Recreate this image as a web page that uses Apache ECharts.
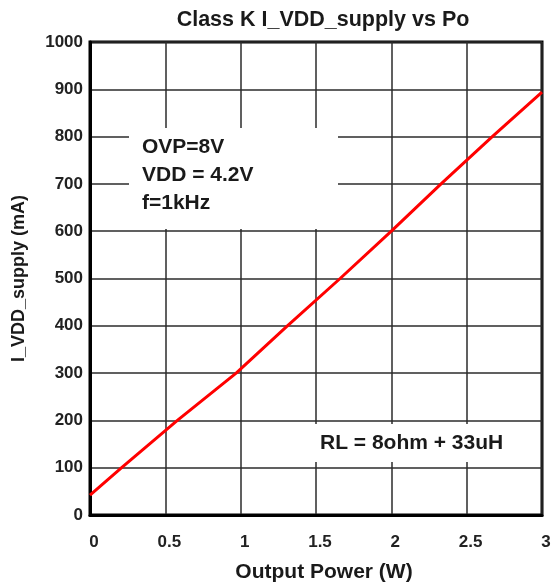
<!DOCTYPE html>
<html>
<head>
<meta charset="utf-8">
<script src="https://cdn.jsdelivr.net/npm/echarts@6/dist/echarts.min.js"></script>
<style>
  html, body { margin: 0; padding: 0; background: #fff; }
  #chart { width: 552px; height: 586px; }
</style>
</head>
<body>
<div id="chart"></div>
<script>
// values
var powerW = [0, 0.21, 0.58, 0.97, 1.31, 1.66, 2.0, 2.33, 2.67, 3.0];
var supplyMa = [42, 100, 200, 300, 400, 500, 600, 700, 800, 894];
var notesLeft = ['OVP=8V', 'VDD = 4.2V', 'f=1kHz'];
var noteLoad = 'RL = 8ohm + 33uH';

var FONT = '"Liberation Sans", Arial, sans-serif';
var chart = echarts.init(document.getElementById('chart'));

var points = powerW.map(function (x, i) { return [x, supplyMa[i]]; });

var option = {
  animation: false,
  backgroundColor: '#fff',
  title: {
    text: 'Class K I_VDD_supply vs Po',
    left: 318,
    top: 4,
    textAlign: 'center',
    textStyle: { fontFamily: FONT, fontSize: 21.5, fontWeight: 'bold', color: '#1a1a1a' }
  },
  grid: {
    left: 90, right: 10, top: 42, bottom: 71,
    outerBoundsMode: 'none',
    containLabel: false,
    show: true,
    borderColor: '#000',
    borderWidth: 3
  },
  xAxis: {
    type: 'value',
    min: 0, max: 3, interval: 0.5,
    name: 'Output Power (W)',
    nameLocation: 'middle',
    nameGap: 47,
    nameTextStyle: { fontFamily: FONT, fontSize: 21, fontWeight: 'bold', color: '#1a1a1a', padding: [0, 0, 0, 16] },
    axisLine: { show: true, lineStyle: { color: '#000', width: 3 } },
    axisTick: { show: false },
    axisLabel: { fontFamily: FONT, fontSize: 17, fontWeight: 'bold', color: '#222', margin: 19, padding: [0, 0, 0, 8] },
    splitLine: { show: true, lineStyle: { color: '#2b2b2b', width: 1.5 } }
  },
  yAxis: {
    type: 'value',
    min: 0, max: 1000, interval: 100,
    name: 'I_VDD_supply (mA)',
    nameLocation: 'middle',
    nameGap: 62,
    nameTextStyle: { fontFamily: FONT, fontSize: 18, fontWeight: 'bold', color: '#1a1a1a' },
    axisLine: { show: true, lineStyle: { color: '#000', width: 3 } },
    axisTick: { show: false },
    axisLabel: {
      fontFamily: FONT, fontSize: 17, fontWeight: 'bold', color: '#222', margin: 7,
      formatter: function (v) { return String(v); }
    },
    splitLine: { show: true, lineStyle: { color: '#2b2b2b', width: 1.5 } }
  },
  graphic: [
    // white boxes behind the notes
    { type: 'rect', z: 5, shape: { x: 129, y: 128, width: 209, height: 101 }, style: { fill: '#fff' } },
    { type: 'text', z: 6, style: { text: notesLeft.join('\n'), x: 142, y: 133, font: 'bold 21px ' + FONT, fill: '#1a1a1a', lineHeight: 28 } },
    { type: 'rect', z: 5, shape: { x: 292, y: 424, width: 242, height: 38 }, style: { fill: '#fff' } },
    { type: 'text', z: 6, style: { text: noteLoad, x: 320, y: 443, font: 'bold 21px ' + FONT, fill: '#1a1a1a', verticalAlign: 'middle' } }
  ],
  series: [
    {
      type: 'line',
      data: points,
      showSymbol: false,
      smooth: false,
      z: 10,
      lineStyle: { color: '#ff0000', width: 3 }
    }
  ]
};

chart.setOption(option);
</script>
</body>
</html>
